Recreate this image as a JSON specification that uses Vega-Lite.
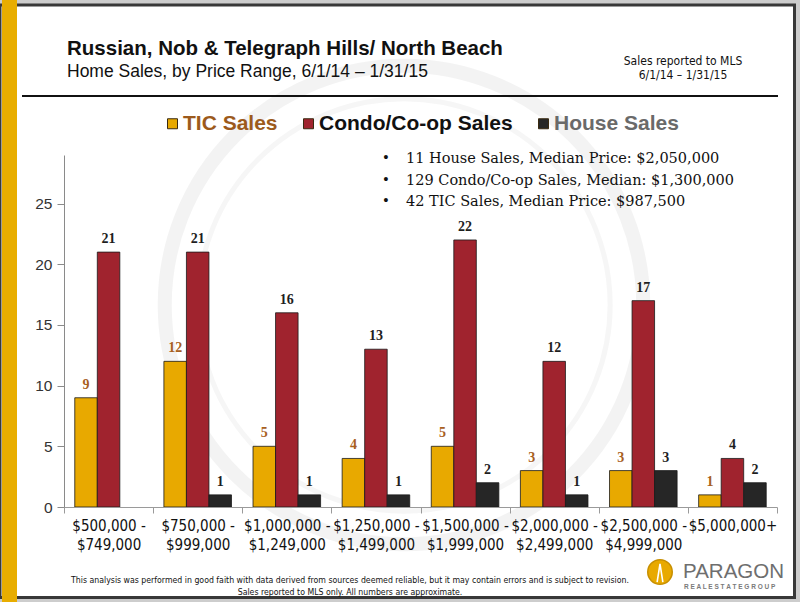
{
  "$schema": "https://vega.github.io/schema/vega-lite/v6.json",
  "width": 713,
  "height": 352,
  "autosize": "none",
  "padding": {"left": 64, "top": 155, "right": 23, "bottom": 95},
  "background": "#cdcdcd",
  "config": {
    "view": {"stroke": null},
    "font": "Liberation Sans, Arial, sans-serif"
  },
  "data": {
    "values": [
      {"range": "$500,000 - $749,000", "series": "TIC Sales", "sales": 9},
      {"range": "$500,000 - $749,000", "series": "Condo/Co-op Sales", "sales": 21},
      {"range": "$750,000 - $999,000", "series": "TIC Sales", "sales": 12},
      {"range": "$750,000 - $999,000", "series": "Condo/Co-op Sales", "sales": 21},
      {"range": "$750,000 - $999,000", "series": "House Sales", "sales": 1},
      {"range": "$1,000,000 - $1,249,000", "series": "TIC Sales", "sales": 5},
      {"range": "$1,000,000 - $1,249,000", "series": "Condo/Co-op Sales", "sales": 16},
      {"range": "$1,000,000 - $1,249,000", "series": "House Sales", "sales": 1},
      {"range": "$1,250,000 - $1,499,000", "series": "TIC Sales", "sales": 4},
      {"range": "$1,250,000 - $1,499,000", "series": "Condo/Co-op Sales", "sales": 13},
      {"range": "$1,250,000 - $1,499,000", "series": "House Sales", "sales": 1},
      {"range": "$1,500,000 - $1,999,000", "series": "TIC Sales", "sales": 5},
      {"range": "$1,500,000 - $1,999,000", "series": "Condo/Co-op Sales", "sales": 22},
      {"range": "$1,500,000 - $1,999,000", "series": "House Sales", "sales": 2},
      {"range": "$2,000,000 - $2,499,000", "series": "TIC Sales", "sales": 3},
      {"range": "$2,000,000 - $2,499,000", "series": "Condo/Co-op Sales", "sales": 12},
      {"range": "$2,000,000 - $2,499,000", "series": "House Sales", "sales": 1},
      {"range": "$2,500,000 - $4,999,000", "series": "TIC Sales", "sales": 3},
      {"range": "$2,500,000 - $4,999,000", "series": "Condo/Co-op Sales", "sales": 17},
      {"range": "$2,500,000 - $4,999,000", "series": "House Sales", "sales": 3},
      {"range": "$5,000,000+", "series": "TIC Sales", "sales": 1},
      {"range": "$5,000,000+", "series": "Condo/Co-op Sales", "sales": 4},
      {"range": "$5,000,000+", "series": "House Sales", "sales": 2}
    ]
  },
  "layer": [
    {
      "data": {"values": [{}]},
      "mark": {"type": "rect", "fill": "#ffffff", "stroke": "#383838", "strokeWidth": 3},
      "encoding": {
        "x": {"value": -64}, "x2": {"value": 730.5},
        "y": {"value": -150}, "y2": {"value": 442.5}
      }
    },
    {
      "data": {"values": [{}]},
      "mark": {"type": "rect", "fill": "#e8ad00"},
      "encoding": {
        "x": {"value": -62}, "x2": {"value": -47},
        "y": {"value": -155}, "y2": {"value": 447}
      }
    },
    {
      "data": {"values": [{}]},
      "mark": {"type": "point", "shape": "circle", "filled": false, "stroke": "#efefef", "strokeWidth": 14, "size": 229000},
      "encoding": {"x": {"value": 340}, "y": {"value": 150}}
    },
    {
      "data": {"values": [{}]},
      "mark": {"type": "point", "shape": "circle", "filled": false, "stroke": "#f3f3f3", "strokeWidth": 5, "size": 170000},
      "encoding": {"x": {"value": 340}, "y": {"value": 150}}
    },
    {
      "data": {"values": [{"t": "Russian, Nob & Telegraph Hills/ North Beach"}]},
      "mark": {"type": "text", "align": "left", "baseline": "alphabetic", "fontSize": 20.5, "fontWeight": "bold", "color": "#111111"},
      "encoding": {"text": {"field": "t"}, "x": {"value": 3}, "y": {"value": -100}}
    },
    {
      "data": {"values": [{"t": "Home Sales, by Price Range, 6/1/14  –  1/31/15"}]},
      "mark": {"type": "text", "align": "left", "baseline": "alphabetic", "fontSize": 17.5, "color": "#111111"},
      "encoding": {"text": {"field": "t"}, "x": {"value": 3}, "y": {"value": -78}}
    },
    {
      "data": {"values": [{}]},
      "mark": {"type": "text", "align": "center", "baseline": "alphabetic", "fontSize": 12, "lineHeight": 14, "color": "#111111", "font": "Liberation Sans Narrow, Arial Narrow, DejaVu Sans Condensed, sans-serif"},
      "encoding": {"text": {"value": ["Sales reported to MLS", "6/1/14 – 1/31/15"]}, "x": {"value": 619}, "y": {"value": -90}}
    },
    {
      "data": {"values": [{}]},
      "mark": {"type": "rule", "color": "#111111", "strokeWidth": 2},
      "encoding": {"x": {"value": -42}, "x2": {"value": 714}, "y": {"value": -59}}
    },
    {
      "data": {"values": [{}]},
      "mark": {"type": "text", "align": "left", "baseline": "alphabetic", "fontSize": 16.5, "lineHeight": 21.5, "color": "#111111", "font": "Liberation Serif, serif"},
      "encoding": {"text": {"value": ["•", "•", "•"]}, "x": {"value": 319}, "y": {"value": 8}}
    },
    {
      "data": {"values": [{}]},
      "mark": {"type": "text", "align": "left", "baseline": "alphabetic", "fontSize": 14.5, "lineHeight": 21.5, "color": "#111111", "font": "DejaVu Serif, Liberation Serif, serif"},
      "encoding": {
        "text": {"value": ["11 House Sales, Median Price:  $2,050,000", "129 Condo/Co-op  Sales, Median: $1,300,000", "42 TIC Sales, Median Price: $987,500"]},
        "x": {"value": 342}, "y": {"value": 8}
      }
    },
    {
      "mark": {"type": "bar", "stroke": "#1a1a1a", "strokeWidth": 0.8},
      "encoding": {
        "x": {
          "field": "range", "type": "nominal", "sort": null,
          "scale": {"paddingInner": 0, "paddingOuter": 0},
          "axis": {
            "title": null, "labelAngle": 0, "tickBand": "extent", "zindex": 1,
            "domainColor": "#9a9a9a", "tickColor": "#9a9a9a", "tickSize": 6,
            "labelFont": "Liberation Sans Narrow, Arial Narrow, DejaVu Sans Condensed, sans-serif",
            "labelFontSize": 15, "labelColor": "#111111", "labelPadding": 5, "labelLineHeight": 19,
            "labelExpr": "indexof(datum.label + '', ' - ') > 0 ? [split(datum.label + '', ' - ')[0] + ' -', split(datum.label + '', ' - ')[1]] : datum.label"
          }
        },
        "xOffset": {
          "field": "series", "type": "nominal",
          "sort": ["TIC Sales", "Condo/Co-op Sales", "House Sales"],
          "scale": {"paddingInner": 0, "paddingOuter": 0.478}
        },
        "y": {
          "field": "sales", "type": "quantitative",
          "scale": {"domain": [0, 29], "nice": false},
          "axis": {
            "title": null, "grid": false, "values": [0, 5, 10, 15, 20, 25], "zindex": 1,
            "domainColor": "#8a8a8a", "tickColor": "#8a8a8a", "tickSize": 7,
            "labelFontSize": 15.5, "labelColor": "#333333", "labelPadding": 5
          }
        },
        "color": {
          "field": "series", "type": "nominal",
          "scale": {"domain": ["TIC Sales", "Condo/Co-op Sales", "House Sales"], "range": ["#e8a900", "#a0232e", "#262626"]},
          "legend": {
            "title": null, "orient": "none", "direction": "horizontal",
            "legendX": 98, "legendY": -42,
            "symbolType": "square", "symbolSize": 100, "symbolStrokeColor": "#3a2a10", "symbolStrokeWidth": 1,
            "labelFontSize": 21, "labelFontWeight": "bold", "labelLimit": 400, "labelOffset": 0, "columnPadding": 20,
            "labelColor": {"expr": "datum.label == 'TIC Sales' ? '#9c5a1c' : (datum.label == 'House Sales' ? '#6a6a6a' : '#111111')"}
          }
        }
      }
    },
    {
      "transform": [{"filter": "datum.series == 'TIC Sales'"}],
      "mark": {"type": "text", "baseline": "bottom", "dy": -6, "fontSize": 14, "fontWeight": "bold", "font": "Liberation Serif, serif", "color": "#a8601e"},
      "encoding": {
        "x": {"field": "range", "type": "nominal", "sort": null},
        "xOffset": {"field": "series", "type": "nominal", "sort": ["TIC Sales", "Condo/Co-op Sales", "House Sales"]},
        "y": {"field": "sales", "type": "quantitative"},
        "text": {"field": "sales", "type": "quantitative"}
      }
    },
    {
      "transform": [{"filter": "datum.series != 'TIC Sales'"}],
      "mark": {"type": "text", "baseline": "bottom", "dy": -6, "fontSize": 14, "fontWeight": "bold", "font": "Liberation Serif, serif", "color": "#1e1e1e"},
      "encoding": {
        "x": {"field": "range", "type": "nominal", "sort": null},
        "xOffset": {"field": "series", "type": "nominal", "sort": ["TIC Sales", "Condo/Co-op Sales", "House Sales"]},
        "y": {"field": "sales", "type": "quantitative"},
        "text": {"field": "sales", "type": "quantitative"}
      }
    },
    {
      "data": {"values": [{}]},
      "mark": {"type": "text", "align": "center", "baseline": "alphabetic", "fontSize": 8.7, "lineHeight": 12, "color": "#111111", "font": "Liberation Sans Narrow, Arial Narrow, DejaVu Sans Condensed, sans-serif"},
      "encoding": {
        "text": {"value": ["This analysis was performed in good faith with data derived from sources deemed reliable, but it may contain errors and is subject to revision.", "Sales reported to MLS  only. All numbers are approximate."]},
        "x": {"value": 286}, "y": {"value": 428}
      }
    },
    {
      "data": {"values": [{}]},
      "mark": {"type": "point", "shape": "circle", "filled": true, "fill": "#e8a900", "stroke": "#c78f00", "strokeWidth": 1.5, "size": 600, "opacity": 1},
      "encoding": {"x": {"value": 596}, "y": {"value": 417}}
    },
    {
      "data": {"values": [{}]},
      "mark": {"type": "point", "shape": "M-0.28,0.9L0,-0.9L0.28,0.9", "filled": false, "stroke": "#ffffff", "strokeWidth": 1.6, "size": 420, "opacity": 1},
      "encoding": {"x": {"value": 596}, "y": {"value": 418}}
    },
    {
      "data": {"values": [{"t": "PARAGON"}]},
      "mark": {"type": "text", "align": "left", "baseline": "alphabetic", "fontSize": 20.5, "color": "#6e6e6e"},
      "encoding": {"text": {"field": "t"}, "x": {"value": 619}, "y": {"value": 423}}
    },
    {
      "data": {"values": [{"t": "R E A L   E S T A T E   G R O U P"}]},
      "mark": {"type": "text", "align": "left", "baseline": "alphabetic", "fontSize": 6.5, "fontWeight": "bold", "color": "#7a7a7a"},
      "encoding": {"text": {"field": "t"}, "x": {"value": 620}, "y": {"value": 434}}
    }
  ]
}
